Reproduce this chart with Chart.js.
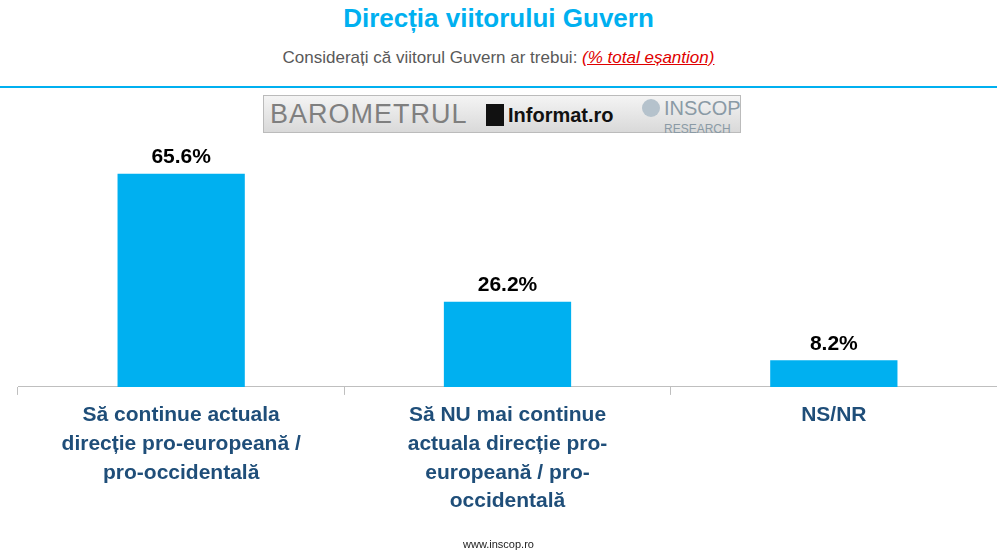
<!DOCTYPE html>
<html><head><meta charset="utf-8">
<script src="https://cdn.jsdelivr.net/npm/chart.js@4"></script>
<style>
body{margin:0;width:997px;height:554px;background:#fff;font-family:Arial,"Liberation Sans",sans-serif;position:relative;overflow:hidden}
#t{position:absolute;top:3px;width:100%;text-align:center;color:#00b0f0;font-weight:bold;font-size:26px}
#s{position:absolute;top:48px;width:100%;text-align:center;color:#595959;font-size:17px}
#s span{color:#e00000;font-style:italic;text-decoration:underline}
#hr{position:absolute;top:86px;left:0;width:997px;height:2px;background:#00b0f0}
#logo{position:absolute;left:263px;top:95px;width:476px;height:36px;border:1px solid #bbb;background:linear-gradient(#f4f4f4,#d9d9d9);font-size:27px;color:#7f7f7f;line-height:36px}
#f{position:absolute;top:538px;width:100%;text-align:center;font-size:11px;color:#222}
#wrap{position:absolute;left:0;top:0;width:997px;height:554px}
</style></head><body>
<div id="t">Direcția viitorului Guvern</div>
<div id="s">Considerați că viitorul Guvern ar trebui: <span>(% total eșantion)</span></div>
<div id="hr"></div>
<div id="logo"><span style="position:absolute;left:6px;letter-spacing:1px">BAROMETRUL</span><span style="position:absolute;left:222px;top:1px;font-size:20px;font-weight:bold;color:#111"><span style="display:inline-block;width:18px;height:22px;background:#111;vertical-align:-4px;margin-right:4px"></span>Informat.ro</span><span style="position:absolute;left:378px;top:3px;width:18px;height:18px;border-radius:50%;background:#b5c2cc"></span><span style="position:absolute;left:400px;top:3px;font-size:20px;line-height:18px;color:#8a9aa5">INSCOP<br><span style="font-size:12px;line-height:12px">RESEARCH</span></span></div>
<div id="wrap"><canvas id="c"></canvas></div>
<div id="f">www.inscop.ro</div>
<script>
const categories=[["Să continue actuala","direcție pro-europeană /","pro-occidentală"],["Să NU mai continue","actuala direcție pro-","europeană / pro-","occidentală"],["NS/NR"]];
const values=[65.6,26.2,8.2];
const labelsPlugin={id:'lbl',afterDatasetsDraw(ch){const c=ch.ctx;const m=ch.getDatasetMeta(0);c.save();c.font='bold 21px Arial, "Liberation Sans"';c.fillStyle='#000';c.textAlign='center';c.textBaseline='bottom';m.data.forEach((b,i)=>c.fillText(values[i].toFixed(1)+'%',b.x,b.y-6));c.restore();}};
new Chart(document.getElementById('c'),{type:'bar',data:{labels:categories,datasets:[{data:values,backgroundColor:'#00b0f0',barPercentage:0.39,categoryPercentage:1}]},
options:{responsive:true,maintainAspectRatio:false,animation:false,layout:{padding:{left:18,top:140,right:-2,bottom:32}},
plugins:{legend:{display:false},tooltip:{enabled:false}},
scales:{y:{display:false,min:0,max:76},x:{grid:{offset:true,drawOnChartArea:false,tickLength:8,color:'#bfbfbf'},border:{color:'#bfbfbf'},ticks:{color:'#1f4e79',font:{size:21,weight:'bold',family:'Arial, "Liberation Sans"',lineHeight:1.37},maxRotation:0,padding:6}}}},plugins:[labelsPlugin]});
</script></body></html>
